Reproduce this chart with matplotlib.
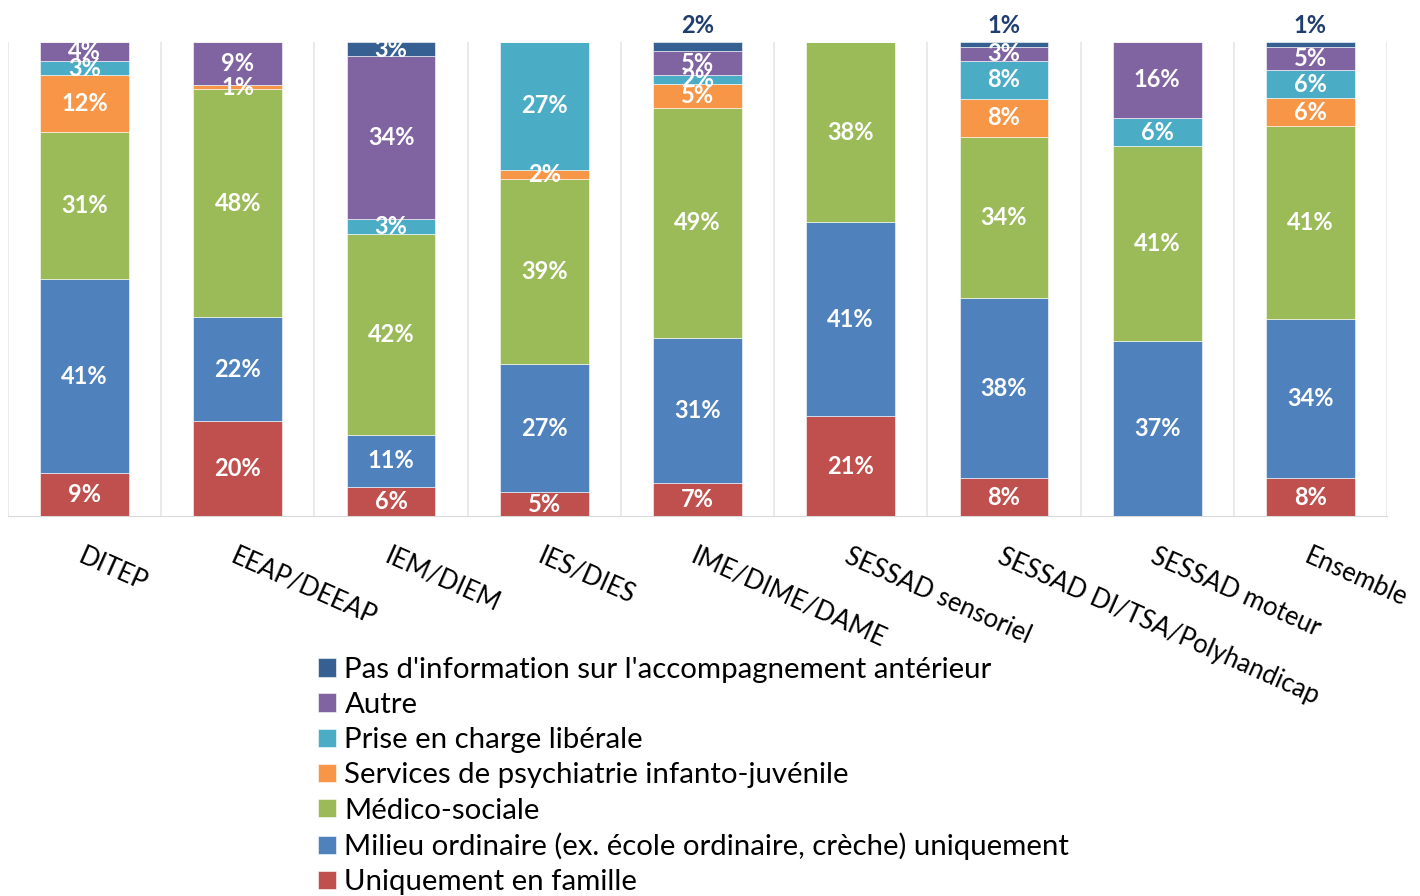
import numpy as np
import matplotlib.pyplot as plt

plt.rcParams['font.family'] = ['Lato', 'DejaVu Sans']

categories = ['DITEP', 'EEAP/DEEAP', 'IEM/DIEM', 'IES/DIES', 'IME/DIME/DAME',
              'SESSAD sensoriel', 'SESSAD DI/TSA/Polyhandicap', 'SESSAD moteur', 'Ensemble']

# stacked from bottom to top
famille = [9, 20, 6, 5, 7, 21, 8, 0, 8]
milieu = [41, 22, 11, 27, 31, 41, 38, 37, 34]
medico = [31, 48, 42, 39, 49, 38, 34, 41, 41]
psy = [12, 1, 0, 2, 5, 0, 8, 0, 6]
liberale = [3, 0, 3, 27, 2, 0, 8, 6, 6]
autre = [4, 9, 34, 0, 5, 0, 3, 16, 5]
pas_info = [0, 0, 3, 0, 2, 0, 1, 0, 1]

series = [
    ('Uniquement en famille', famille, '#C0504D'),
    ('Milieu ordinaire (ex. école ordinaire, crèche) uniquement', milieu, '#4F81BD'),
    ('Médico-sociale', medico, '#9BBB59'),
    ('Services de psychiatrie infanto-juvénile', psy, '#F79646'),
    ('Prise en charge libérale', liberale, '#4BACC6'),
    ('Autre', autre, '#8064A2'),
    ("Pas d'information sur l'accompagnement antérieur", pas_info, '#376092'),
]

totals = np.sum([np.array(s[1]) for s in series], axis=0)

fig = plt.figure(figsize=(14.2, 8.96), dpi=100)
ax = fig.add_axes([8 / 1420, 1 - 516 / 896, 1379 / 1420, 474 / 896])

x = np.arange(len(categories))
bottom = np.zeros(len(categories))
handles = []
for name, vals, color in series:
    v = np.array(vals) / totals * 100
    b = ax.bar(x, v, 0.58, bottom=bottom, color=color, edgecolor='white',
               linewidth=0.4, label=name, zorder=3)
    handles.append(b)
    for i, raw in enumerate(vals):
        if raw == 0:
            continue
        if name.startswith('Pas') and raw < 3:
            ax.text(x[i], 101, f'{raw}%', ha='center', va='bottom', color='#1F3D6E',
                    fontsize=17, fontweight='bold', clip_on=False)
        else:
            ax.text(x[i], bottom[i] + v[i] / 2, f'{raw}%', ha='center', va='center',
                    color='white', fontsize=17, fontweight='bold', zorder=4)
    bottom += v

ax.set_xlim(-0.5, len(categories) - 0.5)
ax.set_ylim(0, 100)
ax.set_yticks([])
ax.set_xticks(x)
ax.set_xticklabels(categories, rotation=-24, ha='left', va='top',
                   rotation_mode='anchor', fontsize=18.5)
ax.tick_params(axis='x', length=0, pad=20)
ax.set_xticks(np.arange(len(categories) + 1) - 0.5, minor=True)
ax.tick_params(axis='x', which='minor', length=0)
ax.grid(axis='x', which='minor', color='#E6E6E6', linewidth=1.2, zorder=0)
for s in ['top', 'left', 'right']:
    ax.spines[s].set_visible(False)
ax.spines['bottom'].set_color('#D9D9D9')

fig.legend(handles[::-1], [s[0] for s in series][::-1], loc='upper left',
           bbox_to_anchor=(318 / 1420, 1 - 657 / 896), frameon=False, fontsize=21.2,
           handlelength=0.6, handleheight=0.6, handletextpad=0.3, labelspacing=0.31,
           borderaxespad=0, borderpad=0)

fig.savefig('out.png', dpi=100)
